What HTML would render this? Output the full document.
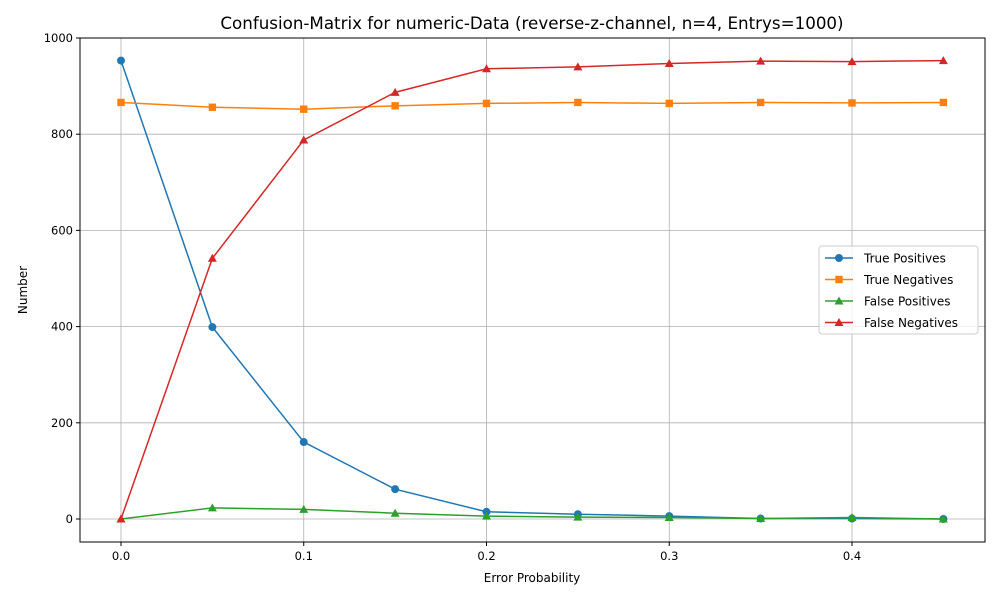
<!DOCTYPE html>
<html><head><meta charset="utf-8"><style>
body{margin:0;background:#fff;font-family:"DejaVu Sans","Liberation Sans",sans-serif;}
svg text{font-family:"DejaVu Sans","Liberation Sans",sans-serif;}
</style></head><body>
<svg id="chart" width="1000" height="600"></svg>
<script>
const xValues=[0,0.05,0.1,0.15,0.2,0.25,0.3,0.35,0.4,0.45];
const truePositives=[953,399,160,62,15,10,6,1,1,0];
const trueNegatives=[866,856,852,859,864,866,864,866,865,866];
const falsePositives=[0,23,20,12,6,4,3,1,3,0];
const falseNegatives=[0,542,788,887,936,940,947,952,951,953];
const xTicks=[0,0.1,0.2,0.3,0.4];
const yTicks=[0,200,400,600,800,1000];
const seriesNames=["True Positives","True Negatives","False Positives","False Negatives"];

const NS="http://www.w3.org/2000/svg";
const svg=document.getElementById('chart');
const L=80,R=985,T=38,B=542;
const xs=v=>121+v*1827.5;
const ys=v=>519-v*0.481;
function el(t,a,p){const e=document.createElementNS(NS,t);for(const k in a)e.setAttribute(k,a[k]);(p||svg).appendChild(e);return e;}

xTicks.forEach(t=>{
 const g=el('line',{x1:xs(t),x2:xs(t),y1:T,y2:B,stroke:'#b0b0b0','stroke-width':0.8});
 
 
 el('line',{x1:xs(t),x2:xs(t),y1:B,y2:B+4,stroke:'#000'});
 const tx=el('text',{x:xs(t),y:B+18,'text-anchor':'middle','font-size':11.5});
 tx.textContent=t.toFixed(1);
 
 
});
yTicks.forEach(t=>{
 const g=el('line',{x1:L,x2:R,y1:ys(t),y2:ys(t),stroke:'#b0b0b0','stroke-width':0.8});
 
 
 el('line',{x1:L-4,x2:L,y1:ys(t),y2:ys(t),stroke:'#000'});
 const tx=el('text',{x:L-7,y:ys(t)+4,'text-anchor':'end','font-size':11.5});
 tx.textContent=t;
 
 
});

const series=[truePositives,trueNegatives,falsePositives,falseNegatives];
const colors=['#1f77b4','#ff7f0e','#2ca02c','#d62728'];
const markers=['circle','square','triangle','triangle'];
const sNames=['true-positives','true-negatives','false-positives','false-negatives'];
function marker(type,x,y,c,parent){
 if(type==='circle')return el('circle',{cx:x,cy:y,r:4,fill:c},parent);
 if(type==='square')return el('rect',{x:x-3.7,y:y-3.7,width:7.4,height:7.4,fill:c},parent);
 return el('polygon',{points:`${x},${y-4.5} ${x+4.5},${y+3.5} ${x-4.5},${y+3.5}`,fill:c},parent);
}
series.forEach((d,i)=>{
 const g=el('g',{});
 
 
 const pl=el('polyline',{points:d.map((v,j)=>xs(xValues[j])+','+ys(v)).join(' '),fill:'none',stroke:colors[i],'stroke-width':1.5},g);
 
 
 d.forEach((v,j)=>{
  const m=marker(markers[i],xs(xValues[j]),ys(v),colors[i],g);
  
  
 });
});

const frame=el('rect',{x:L,y:T,width:R-L,height:B-T,fill:'none',stroke:'#000','stroke-width':1});



const title=el('text',{x:532,y:29,'text-anchor':'middle','font-size':16.7});
title.textContent='Confusion-Matrix for numeric-Data (reverse-z-channel, n=4, Entrys=1000)';


const xl=el('text',{x:532,y:582,'text-anchor':'middle','font-size':12});
xl.textContent='Error Probability';


const yl=el('text',{x:27,y:290,'text-anchor':'middle','font-size':12,transform:'rotate(-90 27 290)'});
yl.textContent='Number';



const lg=el('g',{});


el('rect',{x:819,y:246,width:159,height:88,rx:3,fill:'#fff','fill-opacity':0.8,stroke:'#ccc'},lg);
seriesNames.forEach((n,i)=>{
 const y=258+i*21.5;
 const e=el('g',{},lg);
 
 
 el('line',{x1:825,x2:853,y1:y,y2:y,stroke:colors[i],'stroke-width':1.5},e);
 marker(markers[i],839,y,colors[i],e);
 const t=el('text',{x:864,y:y+4.5,'font-size':12},e);
 t.textContent=n;
});
</script>
</body></html>
